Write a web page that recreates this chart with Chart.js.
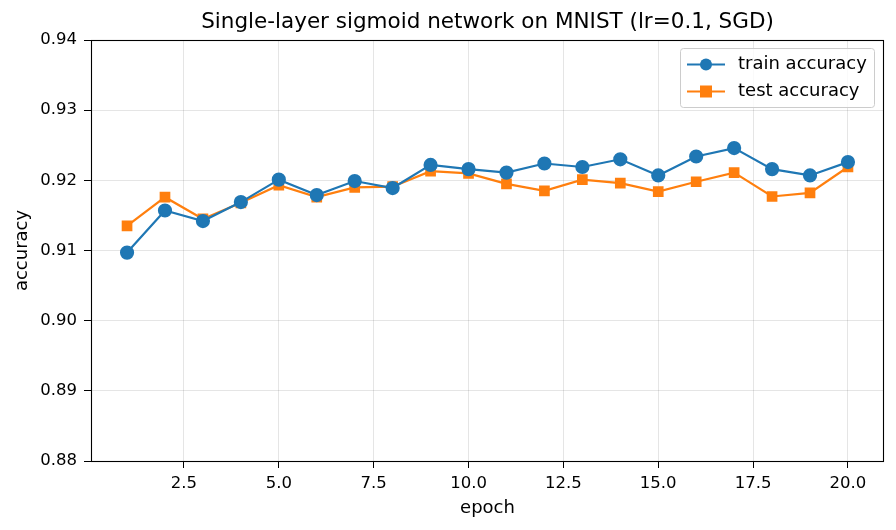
<!DOCTYPE html>
<html>
<head>
<meta charset="utf-8">
<script src="https://cdn.jsdelivr.net/npm/chart.js@4"></script>
<style>
  html, body { margin: 0; padding: 0; background: #fff; }
  #wrap { width: 896px; height: 530px; }
</style>
</head>
<body>
<div id="wrap"><canvas id="myChart" width="896" height="530"></canvas></div>
<script>
// datos
const epochs = [1, 2, 3, 4, 5, 6, 7, 8, 9, 10, 11, 12, 13, 14, 15, 16, 17, 18, 19, 20];
const trainAcc = [0.9097, 0.9157, 0.9142, 0.9169, 0.9201, 0.9179, 0.9199, 0.9189, 0.9222, 0.9216,
                  0.9211, 0.9224, 0.9219, 0.9230, 0.9207, 0.9234, 0.9246, 0.9216, 0.9207, 0.9226];
const testAcc = [0.9135, 0.9176, 0.9145, 0.9168, 0.9193, 0.9176, 0.9190, 0.9191, 0.9213, 0.9210,
                 0.9195, 0.9185, 0.9201, 0.9196, 0.9184, 0.9198, 0.9211, 0.9177, 0.9182, 0.9219];
const xTicks = [2.5, 5.0, 7.5, 10.0, 12.5, 15.0, 17.5, 20.0];
const yTicks = [0.88, 0.89, 0.90, 0.91, 0.92, 0.93, 0.94];

const FONT = 'DejaVu Sans';
const titleText = 'Single-layer sigmoid network on MNIST (lr=0.1, SGD)';

// marco, título y leyenda al estilo matplotlib
const extras = {
    id: 'extras',
    afterDatasetsDraw(chart) {
        const ctx = chart.ctx;
        const a = chart.chartArea;
        ctx.save();
        ctx.strokeStyle = '#000';
        ctx.lineWidth = 1.1;
        ctx.strokeRect(a.left + 0.5, a.top + 0.5, a.right - a.left - 1, a.bottom - a.top);

        // título
        ctx.fillStyle = '#000';
        ctx.font = '21.5px "' + FONT + '"';
        ctx.textAlign = 'center';
        ctx.textBaseline = 'middle';
        ctx.fillText(titleText, (a.left + a.right) / 2, 22);

        // leyenda
        const bx = 680, by = 48, bw = 194, bh = 59;
        ctx.fillStyle = 'rgba(255,255,255,0.8)';
        ctx.strokeStyle = '#cccccc';
        ctx.lineWidth = 1;
        ctx.beginPath();
        ctx.roundRect(bx + 0.5, by + 0.5, bw, bh, 3);
        ctx.fill();
        ctx.stroke();
        chart.data.datasets.forEach((ds, i) => {
            const y = by + 16.5 + i * 27;
            ctx.strokeStyle = ds.borderColor;
            ctx.lineWidth = 2.2;
            ctx.beginPath();
            ctx.moveTo(687, y);
            ctx.lineTo(725, y);
            ctx.stroke();
            ctx.fillStyle = ds.backgroundColor;
            if (ds.pointStyle === 'rect') {
                ctx.fillRect(706 - 6, y - 6, 12, 12);
            } else {
                ctx.beginPath();
                ctx.arc(706, y, 6, 0, Math.PI * 2);
                ctx.fill();
            }
            ctx.fillStyle = '#000';
            ctx.font = '18px "' + FONT + '"';
            ctx.textAlign = 'left';
            ctx.fillText(ds.label, 738, y);
        });
        ctx.restore();
    }
};

const data = {
    datasets: [{
        label: 'train accuracy',
        data: epochs.map((e, i) => ({ x: e, y: trainAcc[i] })),
        borderColor: '#1f77b4',
        backgroundColor: '#1f77b4',
        pointStyle: 'circle',
        pointRadius: 6,
        pointHoverRadius: 6,
        borderWidth: 2.2
    }, {
        label: 'test accuracy',
        data: epochs.map((e, i) => ({ x: e, y: testAcc[i] })),
        borderColor: '#ff7f0e',
        backgroundColor: '#ff7f0e',
        pointStyle: 'rect',
        pointRadius: 6,
        pointHoverRadius: 6,
        borderWidth: 2.2
    }]
};

const config = {
    type: 'line',
    data: data,
    plugins: [extras],
    options: {
        responsive: false,
        animation: false,
        layout: { padding: { top: 40, right: 12, left: 0, bottom: 0 } },
        plugins: {
            legend: { display: false },
            title: { display: false },
            tooltip: { enabled: false }
        },
        scales: {
            x: {
                type: 'linear',
                min: 0.05,
                max: 20.95,
                afterBuildTicks: (s) => { s.ticks = xTicks.map(v => ({ value: v })); },
                afterFit: (s) => { s.height = 69; },
                ticks: {
                    color: '#000',
                    font: { family: FONT, size: 16.5 },
                    padding: 6,
                    maxRotation: 0,
                    callback: (v) => Number(v).toFixed(1)
                },
                grid: { color: 'rgba(0,0,0,0.1)', tickColor: '#000', tickLength: 7 },
                border: { display: false },
                title: {
                    display: true, text: 'epoch', color: '#000',
                    font: { family: FONT, size: 18 },
                    padding: { top: 0, bottom: 11 }
                }
            },
            y: {
                min: 0.88,
                max: 0.94,
                afterBuildTicks: (s) => { s.ticks = yTicks.map(v => ({ value: v })); },
                afterFit: (s) => { s.width = 91; },
                ticks: {
                    color: '#000',
                    font: { family: FONT, size: 16.5 },
                    padding: 7,
                    callback: (v) => Number(v).toFixed(2)
                },
                grid: { color: 'rgba(0,0,0,0.1)', tickColor: '#000', tickLength: 7 },
                border: { display: false },
                title: {
                    display: true, text: 'accuracy', color: '#000',
                    font: { family: FONT, size: 18 },
                    padding: { top: 12, bottom: 0 }
                }
            }
        }
    }
};

var myChart = new Chart(document.getElementById('myChart'), config);
</script>
</body>
</html>
